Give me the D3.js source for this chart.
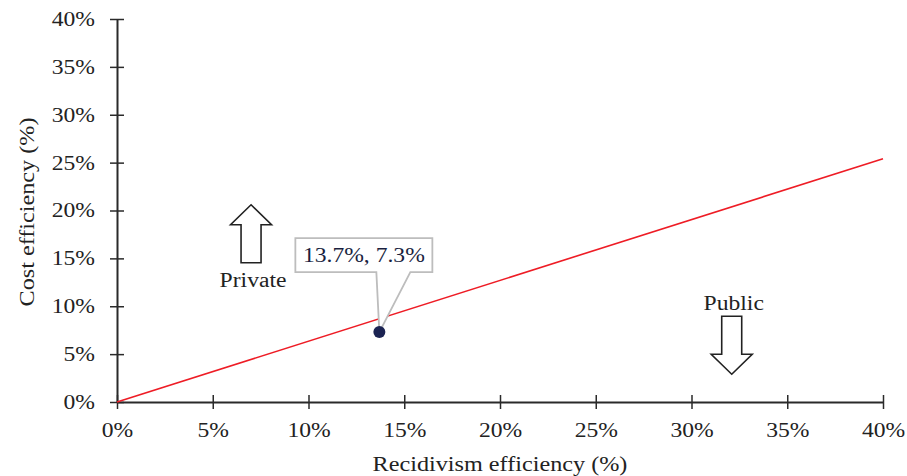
<!DOCTYPE html>
<html><head><meta charset="utf-8">
<script src="https://cdn.jsdelivr.net/npm/d3@7"></script>
<style>body{margin:0;background:#fff}svg{display:block}text{font-family:"Liberation Serif","Times New Roman",serif}</style>
</head><body>
<svg id="c" width="907" height="476"></svg>
<script>
const xTicks = [0,5,10,15,20,25,30,35,40];
const yTicks = [0,5,10,15,20,25,30,35,40];
const lineX = [0, 40];
const lineY = [0, 25.4];
const pointX = [13.7];
const pointY = [7.3];
const pointLabels = ["13.7%, 7.3%"];
const arrowLabels = ["Private", "Public"];
const arrowX = [7.0, 32.1];
const arrowTipY = [20.6, 2.9];
const arrowDir = ["up", "down"];

const svg = d3.select("#c");
const x = d3.scaleLinear().domain([0,40]).range([117,883]);
const y = d3.scaleLinear().domain([0,40]).range([402,19]);
const fmt = d => d + "%";

// axes
const gx = svg.append("g").attr("transform","translate(0,402)")
  .call(d3.axisBottom(x).tickValues(xTicks).tickFormat(fmt).tickSizeInner(7).tickSizeOuter(0).tickPadding(14));
const gy = svg.append("g").attr("transform","translate(117,0)")
  .call(d3.axisLeft(y).tickValues(yTicks).tickFormat(fmt).tickSizeInner(7).tickSizeOuter(0).tickPadding(14));
[gx, gy].forEach(g => {
  g.attr("font-family", null);
  g.select(".domain").attr("stroke","#2a2a2a").attr("stroke-width",2);
  g.selectAll(".tick line").attr("stroke","#2a2a2a").attr("stroke-width",1.5);
  g.selectAll(".tick text").attr("font-size",20).attr("fill","#222");
});
gx.selectAll(".tick line").attr("y1",-7).attr("y2",7);
gy.selectAll(".tick line").attr("x1",-7).attr("x2",7);
gy.selectAll(".tick text").attr("x",-22);

// titles
svg.append("text").attr("x",500).attr("y",471).attr("text-anchor","middle")
  .attr("font-size",20.5).attr("fill","#222").text("Recidivism efficiency (%)");
svg.append("text").attr("transform","translate(34,212) rotate(-90)").attr("text-anchor","middle")
  .attr("font-size",20.5).attr("fill","#222").text("Cost efficiency (%)");

// red line
svg.append("path").datum(lineX.map((v,i)=>[v,lineY[i]]))
  .attr("d", d3.line().x(d=>x(d[0])).y(d=>y(d[1])))
  .attr("stroke","#ee1c25").attr("stroke-width",1.6).attr("fill","none");

// arrows
arrowX.forEach((ax,i)=>{
  const cx = x(ax), ty = y(arrowTipY[i]);
  const s = arrowDir[i]==="up" ? 1 : -1;
  const pts = [[0,0],[20.5,20],[10,20],[10,58],[-10,58],[-10,20],[-20.5,20]]
    .map(p=>[cx+p[0], ty + s*p[1]]);
  svg.append("polygon").attr("points", pts.map(p=>p.join(",")).join(" "))
    .attr("fill","#fff").attr("stroke","#222").attr("stroke-width",1.6);
  const ly = arrowDir[i]==="up" ? ty + 82 : ty - 64;
  svg.append("text").attr("x",cx+2).attr("y",ly).attr("text-anchor","middle")
    .attr("font-size",20).attr("fill","#222").text(arrowLabels[i]);
});

// callout
pointX.forEach((px,i)=>{
  const cx = x(px), cy = y(pointY[i]);
  const bx0 = cx-84, bx1 = cx+53, by0 = cy-94, by1 = cy-60;
  svg.append("path")
    .attr("d", `M${bx0},${by0} H${bx1} V${by1} H${cx+31} L${cx},${cy} L${cx-3},${by1} H${bx0} Z`)
    .attr("fill","#fff").attr("stroke","#bdbdbd").attr("stroke-width",1.8);
  svg.append("text").attr("x",(bx0+bx1)/2).attr("y",by1-10).attr("text-anchor","middle")
    .attr("font-size",20).attr("fill","#1a1f3f").text(pointLabels[i]);
  svg.append("circle").attr("cx",cx).attr("cy",cy).attr("r",6).attr("fill","#1b2352");
});

// the reference typeface is set wider than Times; widen glyphs to match
svg.selectAll("text").each(function(){
  const w = this.getComputedTextLength();
  d3.select(this).attr("textLength", w*1.18).attr("lengthAdjust","spacingAndGlyphs");
});
</script>
</body></html>
